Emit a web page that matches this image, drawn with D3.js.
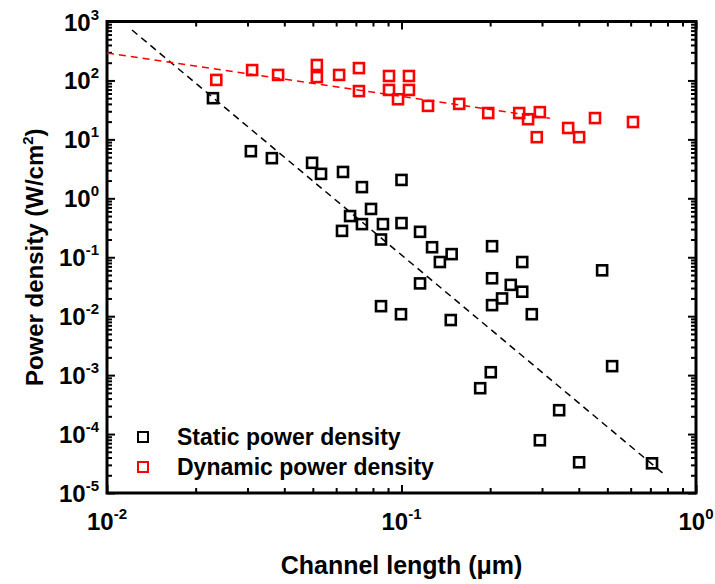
<!DOCTYPE html>
<html>
<head>
<meta charset="utf-8">
<script src="https://cdn.jsdelivr.net/npm/d3@7"></script>
<style>
body { margin: 0; background: #fff; }
text { font-family: "Liberation Sans", Arial, sans-serif; font-weight: bold; fill: #000; }
</style>
</head>
<body>
<script>
// static power density points (channel length in um, W/cm2)
var staticLength = [0.0229, 0.0308, 0.0363, 0.0497, 0.0533, 0.0633, 0.0734, 0.100, 0.0788, 0.0669,
   0.0734, 0.0865, 0.0628, 0.0852, 0.100, 0.1156, 0.127, 0.148, 0.135, 0.203,
   0.257, 0.1156, 0.203, 0.235, 0.257, 0.2195, 0.203, 0.277, 0.480, 0.0852,
   0.0996, 0.147, 0.201, 0.185, 0.519, 0.343, 0.295, 0.401, 0.709];
var staticPower = [50, 6.3, 4.8, 4.0, 2.6, 2.8, 1.55, 2.05, 0.66, 0.50,
   0.365, 0.365, 0.28, 0.20, 0.38, 0.27, 0.148, 0.113, 0.083, 0.154,
   0.083, 0.036, 0.044, 0.034, 0.026, 0.020, 0.0154, 0.0108, 0.060, 0.0148,
   0.0108, 0.0086, 0.00112, 0.00060, 0.00142, 0.000254, 0.0000785, 0.0000332, 0.0000319];

// dynamic power density points
var dynamicLength = [0.0235, 0.0311, 0.0381, 0.0516, 0.0516, 0.0614, 0.0717, 0.0717, 0.0907, 0.106,
   0.0907, 0.106, 0.0973, 0.123, 0.157, 0.197, 0.251, 0.269, 0.295, 0.288,
   0.368, 0.401, 0.454, 0.611];
var dynamicPower = [102, 150, 124, 183, 114, 124, 162, 66, 119, 119,
   69, 69, 48, 37, 40, 28, 28, 22, 29, 10.9,
   15.6, 10.9, 23, 19.7];

// dashed trend lines, end points
var staticFitLength = [0.01216, 0.7725];
var staticFitPower = [717, 0.0000216];
var dynamicFitLength = [0.01, 0.319];
var dynamicFitPower = [292, 22.8];

var xExponents = [-2, -1, 0];
var yExponents = [-5, -4, -3, -2, -1, 0, 1, 2, 3];

var legendLabels = ["Static power density", "Dynamic power density"];
var colors = ["#000000", "#ff0000"];

var width = 715;
var height = 584;
var pLeft = 107, pRight = 696, pTop = 21.5, pBottom = 493;

var svg = d3.select("body")
.append("svg")
.attr("width", width)
.attr("height", height);

var x = d3.scaleLog().domain([0.01, 1]).range([pLeft, pRight]);
var y = d3.scaleLog().domain([1e-5, 1e3]).range([pBottom, pTop]);

function minors(lo, hi) {
   var out = [];
   for (var e = lo; e < hi; e++) {
      for (var m = 2; m <= 9; m++) out.push(m * Math.pow(10, e));
   }
   return out;
}
var xMajor = xExponents.map(function(e) { return Math.pow(10, e); });
var yMajor = yExponents.map(function(e) { return Math.pow(10, e); });
var xMinor = minors(-2, 0);
var yMinor = minors(-5, 3);

// inward ticks on all four sides
function addAxis(gen, tr, vals, size) {
   svg.append("g")
      .attr("transform", tr)
      .call(gen.tickValues(vals).tickSize(size).tickFormat(""))
      .call(function(g) {
         g.select(".domain").remove();
         g.selectAll("line").attr("stroke", "#000").attr("stroke-width", 2);
      });
}
addAxis(d3.axisBottom(x), "translate(0," + pBottom + ")", xMajor, -8);
addAxis(d3.axisBottom(x), "translate(0," + pBottom + ")", xMinor, -5);
addAxis(d3.axisTop(x), "translate(0," + pTop + ")", xMajor, -8);
addAxis(d3.axisTop(x), "translate(0," + pTop + ")", xMinor, -5);
addAxis(d3.axisLeft(y), "translate(" + pLeft + ",0)", yMajor, -8);
addAxis(d3.axisLeft(y), "translate(" + pLeft + ",0)", yMinor, -5);
addAxis(d3.axisRight(y), "translate(" + pRight + ",0)", yMajor, -8);
addAxis(d3.axisRight(y), "translate(" + pRight + ",0)", yMinor, -5);

svg.append("rect")
   .attr("x", pLeft).attr("y", pTop)
   .attr("width", pRight - pLeft).attr("height", pBottom - pTop)
   .attr("fill", "none").attr("stroke", "#000").attr("stroke-width", 3);

// tick labels with superscript exponents
var xl = svg.selectAll(".xl").data(xExponents).enter()
   .append("text")
   .attr("x", function(d) { return x(Math.pow(10, d)); })
   .attr("y", 530)
   .attr("text-anchor", "middle")
   .style("font-size", "24px");
xl.append("tspan").text("10");
xl.append("tspan").attr("dy", -11).style("font-size", "15px").text(function(d) { return d; });

var yl = svg.selectAll(".yl").data(yExponents).enter()
   .append("text")
   .attr("x", 99)
   .attr("y", function(d) { return y(Math.pow(10, d)) + 9; })
   .attr("text-anchor", "end")
   .style("font-size", "24px");
yl.append("tspan").text("10");
yl.append("tspan").attr("dy", -11).style("font-size", "15px").text(function(d) { return d; });

// axis titles
svg.append("text")
   .attr("x", (pLeft + pRight) / 2)
   .attr("y", 574)
   .attr("text-anchor", "middle")
   .style("font-size", "25px")
   .text("Channel length (\u03bcm)");

var yt = svg.append("text")
   .attr("transform", "translate(43," + ((pTop + pBottom) / 2) + ") rotate(-90)")
   .attr("text-anchor", "middle")
   .style("font-size", "24px");
yt.append("tspan").text("Power density (W/cm");
yt.append("tspan").attr("dy", -10).style("font-size", "15px").text("2");
yt.append("tspan").attr("dy", 10).text(")");

// fit lines
var line = d3.line()
   .x(function(d) { return x(d[0]); })
   .y(function(d) { return y(d[1]); });

svg.append("path")
   .attr("d", line(d3.zip(staticFitLength, staticFitPower)))
   .attr("fill", "none").attr("stroke", colors[0])
   .attr("stroke-width", 1.5).attr("stroke-dasharray", "7,5");
svg.append("path")
   .attr("d", line(d3.zip(dynamicFitLength, dynamicFitPower)))
   .attr("fill", "none").attr("stroke", colors[1])
   .attr("stroke-width", 1.5).attr("stroke-dasharray", "7,5");

// markers
var s = 10;
function drawSquares(xs, ys, color) {
   svg.append("g").selectAll("rect")
      .data(d3.zip(xs, ys))
      .enter()
      .append("rect")
      .attr("x", function(d) { return x(d[0]) - s / 2; })
      .attr("y", function(d) { return y(d[1]) - s / 2; })
      .attr("width", s).attr("height", s)
      .attr("fill", "none")
      .attr("stroke", color)
      .attr("stroke-width", 2.6);
}
drawSquares(staticLength, staticPower, colors[0]);
drawSquares(dynamicLength, dynamicPower, colors[1]);

// legend
var lg = svg.selectAll(".lg").data(legendLabels).enter()
   .append("g")
   .attr("transform", function(d, i) { return "translate(143," + (437 + i * 30) + ")"; });
lg.append("rect")
   .attr("x", -5).attr("y", -5).attr("width", 10).attr("height", 10)
   .attr("fill", "none")
   .attr("stroke", function(d, i) { return colors[i]; })
   .attr("stroke-width", 2);
lg.append("text")
   .attr("x", 34).attr("y", 8)
   .style("font-size", "23px")
   .text(function(d) { return d; });
</script>
</body>
</html>
